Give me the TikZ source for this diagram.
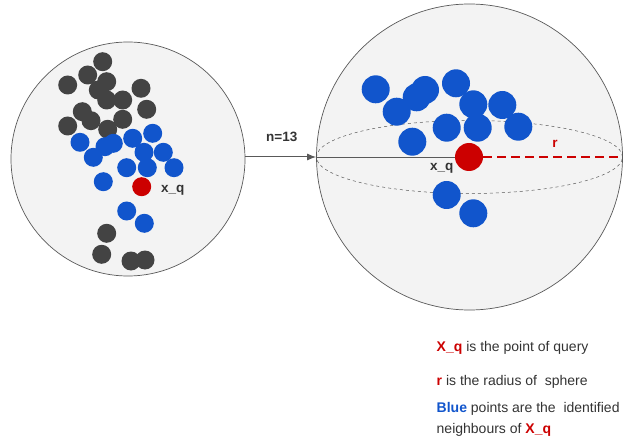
\documentclass[tikz,border=0pt]{standalone}
\usepackage{fontspec}
\setmainfont{Liberation Sans}
\usetikzlibrary{arrows.meta,shapes.geometric}
\definecolor{ballfill}{HTML}{F3F3F3}
\definecolor{ballline}{HTML}{595959}
\definecolor{darkdot}{HTML}{434343}
\definecolor{gblue}{HTML}{1155CC}
\definecolor{gred}{HTML}{CC0000}
\definecolor{txtgray}{HTML}{333333}
\tikzset{
  ball/.style={circle, draw=ballline, fill=ballfill, line width=0.7pt, inner sep=0pt},
  ddot/.style={circle, fill=darkdot, inner sep=0pt, minimum size=19pt},
  bdot/.style={circle, fill=gblue, inner sep=0pt, minimum size=19pt},
  rdot/.style={circle, fill=gred, inner sep=0pt, minimum size=19pt},
  bbig/.style={circle, fill=gblue, inner sep=0pt, minimum size=28pt},
  rbig/.style={circle, fill=gred, inner sep=0pt, minimum size=28pt},
  lbl/.style={font=\fontsize{13.5}{16}\selectfont\bfseries, text=txtgray, inner sep=0pt},
  legend/.style={font=\fontsize{14}{17}\selectfont, text=txtgray, anchor=base west, inner sep=0pt},
}
\begin{document}
\begin{tikzpicture}[x=1pt, y=-1pt]
\useasboundingbox (0,0) rectangle (628,438);
% left ball
\node[ball, minimum size=234pt] (L) at (128,159) {};
% dark dots
\foreach \i/\p in {1/{102.7,61.7},2/{87.7,75},3/{67.7,85},4/{106.7,81.7},5/{98.3,90},6/{106.7,100},
  7/{122.7,100},8/{141,88.3},9/{146.7,109.3},10/{82.3,111.7},11/{91,120.7},12/{67.7,126},
  13/{107.7,129.3},14/{122.7,119.3},15/{106.7,233.3},16/{101.7,254.3},17/{131,261},18/{145,260}}
  \node[ddot] (d\i) at (\p) {};
% blue dots
\foreach \i/\p in {1/{80,142.3},2/{93.3,157.3},3/{105,146.7},4/{113.3,143.3},5/{132.7,138.3},
  6/{152.7,133.3},7/{144,152.3},8/{163.3,152.3},9/{126.7,167.7},10/{147.3,167.7},11/{174,167.7},
  12/{103.3,181.7},13/{126.7,211},14/{144.3,223.3}}
  \node[bdot] (b\i) at (\p) {};
\node[rdot] (q) at (141.7,186.7) {};
\node[lbl, anchor=west] (qlab) at (161,190) {x\_q};

% sphere
\node[ball, minimum size=306pt] (S) at (469.5,157) {};
\node[draw=ballline, dashed, line width=0.5pt, ellipse, inner sep=0pt, minimum width=306pt, minimum height=73pt] (E) at (469.5,157) {};
\foreach \i/\p in {1/{375.7,89.3},2/{396.7,111.7},3/{416.7,97.3},4/{425,90},5/{456,83.3},
  6/{473.3,104.3},7/{502.3,105},8/{518.3,126.7},9/{477.7,127.7},10/{446.7,127.7},
  11/{412.3,141.7},12/{446.7,195},13/{473.3,213.3}}
  \node[bbig] (s\i) at (\p) {};
\node[rbig] (Q) at (469,157) {};
\draw[ballline, line width=0.6pt] (S.west) -- (Q.west);
\draw[gred, line width=2pt, dash pattern=on 9pt off 5pt] (Q.east) -- (S.east);
\node[lbl, text=gred] (rlab) at (555,144) {r};
\node[lbl] (Qlab) at (441.7,168.5) {x\_q};

% arrow
\draw[ballline, line width=1pt, -{Latex[length=9pt,width=7pt]}] (S.west -| L.east) -- (S.west);
\node[lbl] (n) at (281.7,136.7) {n=13};

% legend
\node[legend] (t1) at (436.5,351.7) {\textcolor{gred}{\bfseries X\_q} is the point of query};
\node[legend] (t2) at (436.5,385) {\textcolor{gred}{\bfseries r} is the radius of \ sphere};
\node[legend] (t3) at (436.5,412.7) {\textcolor{gblue}{\bfseries Blue} points are the \ identified};
\node[legend] (t4) at (436.5,433.3) {neighbours of \textcolor{gred}{\bfseries X\_q}};
\end{tikzpicture}
\end{document}
